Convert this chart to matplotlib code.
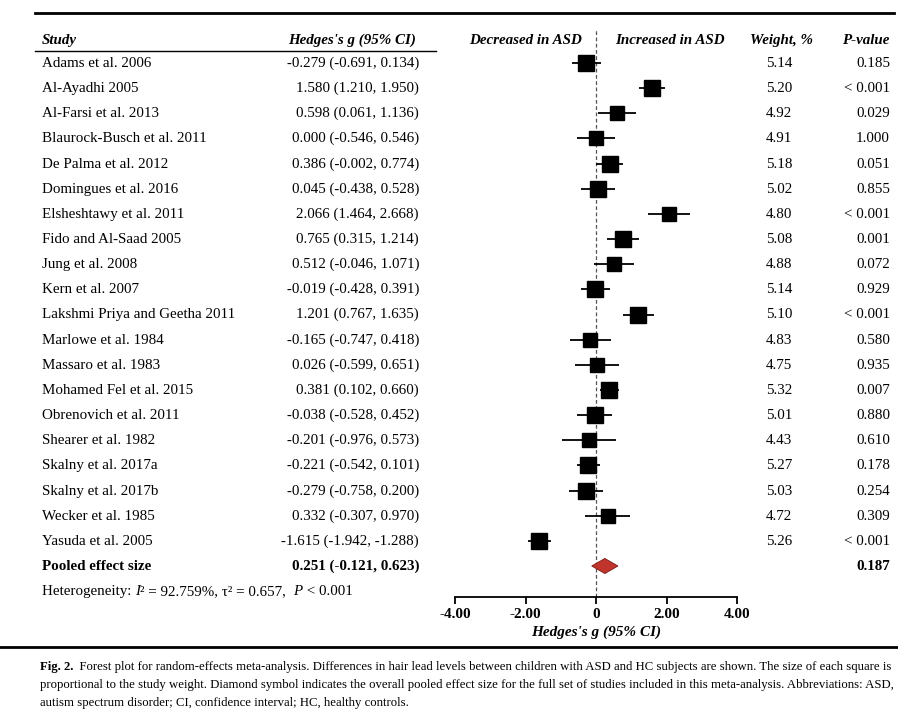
import numpy as np
import matplotlib.pyplot as plt
from matplotlib.lines import Line2D

plt.rcParams['font.family'] = ['Liberation Serif', 'DejaVu Serif']

# study data
studies = ["Adams et al. 2006", "Al-Ayadhi 2005", "Al-Farsi et al. 2013",
           "Blaurock-Busch et al. 2011", "De Palma et al. 2012", "Domingues et al. 2016",
           "Elsheshtawy et al. 2011", "Fido and Al-Saad 2005", "Jung et al. 2008",
           "Kern et al. 2007", "Lakshmi Priya and Geetha 2011", "Marlowe et al. 1984",
           "Massaro et al. 1983", "Mohamed Fel et al. 2015", "Obrenovich et al. 2011",
           "Shearer et al. 1982", "Skalny et al. 2017a", "Skalny et al. 2017b",
           "Wecker et al. 1985", "Yasuda et al. 2005"]
g = [-0.279, 1.580, 0.598, 0.000, 0.386, 0.045, 2.066, 0.765, 0.512, -0.019,
     1.201, -0.165, 0.026, 0.381, -0.038, -0.201, -0.221, -0.279, 0.332, -1.615]
ci_lo = [-0.691, 1.210, 0.061, -0.546, -0.002, -0.438, 1.464, 0.315, -0.046, -0.428,
         0.767, -0.747, -0.599, 0.102, -0.528, -0.976, -0.542, -0.758, -0.307, -1.942]
ci_hi = [0.134, 1.950, 1.136, 0.546, 0.774, 0.528, 2.668, 1.214, 1.071, 0.391,
         1.635, 0.418, 0.651, 0.660, 0.452, 0.573, 0.101, 0.200, 0.970, -1.288]
weights = [5.14, 5.20, 4.92, 4.91, 5.18, 5.02, 4.80, 5.08, 4.88, 5.14,
           5.10, 4.83, 4.75, 5.32, 5.01, 4.43, 5.27, 5.03, 4.72, 5.26]
pvals = ["0.185", "< 0.001", "0.029", "1.000", "0.051", "0.855", "< 0.001", "0.001",
         "0.072", "0.929", "< 0.001", "0.580", "0.935", "0.007", "0.880", "0.610",
         "0.178", "0.254", "0.309", "< 0.001"]
pooled_g, pooled_lo, pooled_hi, pooled_p = 0.251, -0.121, 0.623, "0.187"
xticks = [-4, -2, 0, 2, 4]
xtick_labels = ["-4.00", "-2.00", "0", "2.00", "4.00"]

W, H = 898, 715
fig = plt.figure(figsize=(W / 100, H / 100), dpi=100)


def fx(px):
    return px / W


def fy(py):
    return 1 - py / H


def text_run(x_px, y_px, pieces, **kw):
    # write pieces one after another on one baseline
    fig.canvas.draw()
    x = x_px
    for s, style in pieces:
        t = fig.text(fx(x), fy(y_px), s, va='baseline', **style, **kw)
        fig.canvas.draw()
        x = t.get_window_extent().x1


# forest axes: x -4..4 maps to 455..737 px, axis line at 597 px
row0, dy = 63, 25.15
ax_top, ax_bot = 30, 597
ax = fig.add_axes([fx(455), fy(ax_bot), fx(737) - fx(455), (ax_bot - ax_top) / H])
ax.set_xlim(-4, 4)
ax.set_ylim((ax_bot - row0) / dy, (ax_top - row0) / dy)
for s in ['top', 'right', 'left']:
    ax.spines[s].set_visible(False)
ax.spines['bottom'].set_linewidth(1.3)
ax.set_yticks([])
ax.set_xticks(xticks)
ax.set_xticklabels(xtick_labels, fontweight='bold', fontsize=11)
ax.tick_params(axis='x', direction='out', length=5, width=1.3, pad=3)
ax.set_xlabel("Hedges's g (95% CI)", fontstyle='italic', fontweight='bold',
              fontsize=11, labelpad=3)
ax.patch.set_alpha(0)

ax.axvline(0, color='#555555', linestyle=(0, (3, 2)), linewidth=0.9, zorder=1)

y = np.arange(len(studies))
ax.hlines(y, ci_lo, ci_hi, color='black', linewidth=1.3, zorder=2)
for yi, gi, wi in zip(y, g, weights):
    ax.plot(gi, yi, marker='s', color='black', markersize=10.8 * np.sqrt(wi / 5.0),
            zorder=3, clip_on=False)

yp = len(studies)
ax.fill([pooled_lo, pooled_g, pooled_hi, pooled_g], [yp, yp - 0.3, yp, yp + 0.3],
        facecolor='#c0342c', edgecolor='#7a1a14', linewidth=0.6, zorder=3)

# table text (baseline about 4 px below row centre)
fs = 10.8
bl = 4
hdr = dict(fontstyle='italic', fontweight='bold', fontsize=fs, va='baseline')
fig.text(fx(42), fy(40 + bl), "Study", **hdr)
fig.text(fx(416), fy(40 + bl), "Hedges's g (95% CI)", ha='right', **hdr)
fig.text(fx(582), fy(40 + bl), "Decreased in ASD", ha='right', **hdr)
fig.text(fx(615), fy(40 + bl), "Increased in ASD", ha='left', **hdr)
fig.text(fx(782), fy(40 + bl), "Weight, %", ha='center', **hdr)
fig.text(fx(889), fy(40 + bl), "P-value", ha='right', **hdr)

for i, name in enumerate(studies):
    py = round(row0 + i * dy) + bl
    fig.text(fx(42), fy(py), name, fontsize=fs, va='baseline')
    fig.text(fx(419), fy(py), f"{g[i]:.3f} ({ci_lo[i]:.3f}, {ci_hi[i]:.3f})",
             fontsize=fs, va='baseline', ha='right')
    fig.text(fx(779), fy(py), f"{weights[i]:.2f}", fontsize=fs, va='baseline', ha='center')
    fig.text(fx(890), fy(py), pvals[i], fontsize=fs, va='baseline', ha='right')

py = round(row0 + len(studies) * dy) + bl
fig.text(fx(42), fy(py), "Pooled effect size", fontsize=fs, fontweight='bold', va='baseline')
fig.text(fx(419), fy(py), f"{pooled_g:.3f} ({pooled_lo:.3f}, {pooled_hi:.3f})",
         fontsize=fs, fontweight='bold', va='baseline', ha='right')
fig.text(fx(890), fy(py), pooled_p, fontsize=fs, fontweight='bold', va='baseline', ha='right')

reg, ital = {}, {'fontstyle': 'italic'}
text_run(42, 591 + bl, [("Heterogeneity: ", reg), ("I", ital), ("\u00b2 = 92.759%, \u03c4\u00b2 = 0.657,  ", reg),
                        ("P", ital), (" < 0.001", reg)], fontsize=fs)

# rules
fig.add_artist(Line2D([fx(35), fx(894)], [fy(13), fy(13)], color='black', linewidth=2.0))
fig.add_artist(Line2D([fx(35), fx(436)], [fy(51), fy(51)], color='black', linewidth=1.0))
fig.add_artist(Line2D([0, 1], [fy(647), fy(647)], color='black', linewidth=2.0))

# caption
cap_fs = 9.2
cb = 3
text_run(40, 667 + cb, [("Fig. 2.", {'fontweight': 'bold'}),
                        ("  Forest plot for random-effects meta-analysis. "
                         "Differences in hair lead levels between children with ASD and HC "
                         "subjects are shown. The size of each square is", reg)], fontsize=cap_fs)
fig.text(fx(40), fy(685 + cb), "proportional to the study weight. Diamond symbol indicates the "
         "overall pooled effect size for the full set of studies included in this "
         "meta-analysis. Abbreviations: ASD,", fontsize=cap_fs, va='baseline')
fig.text(fx(40), fy(703 + cb), "autism spectrum disorder; CI, confidence interval; HC, healthy controls.",
         fontsize=cap_fs, va='baseline')

fig.savefig("out.png", dpi=100)
